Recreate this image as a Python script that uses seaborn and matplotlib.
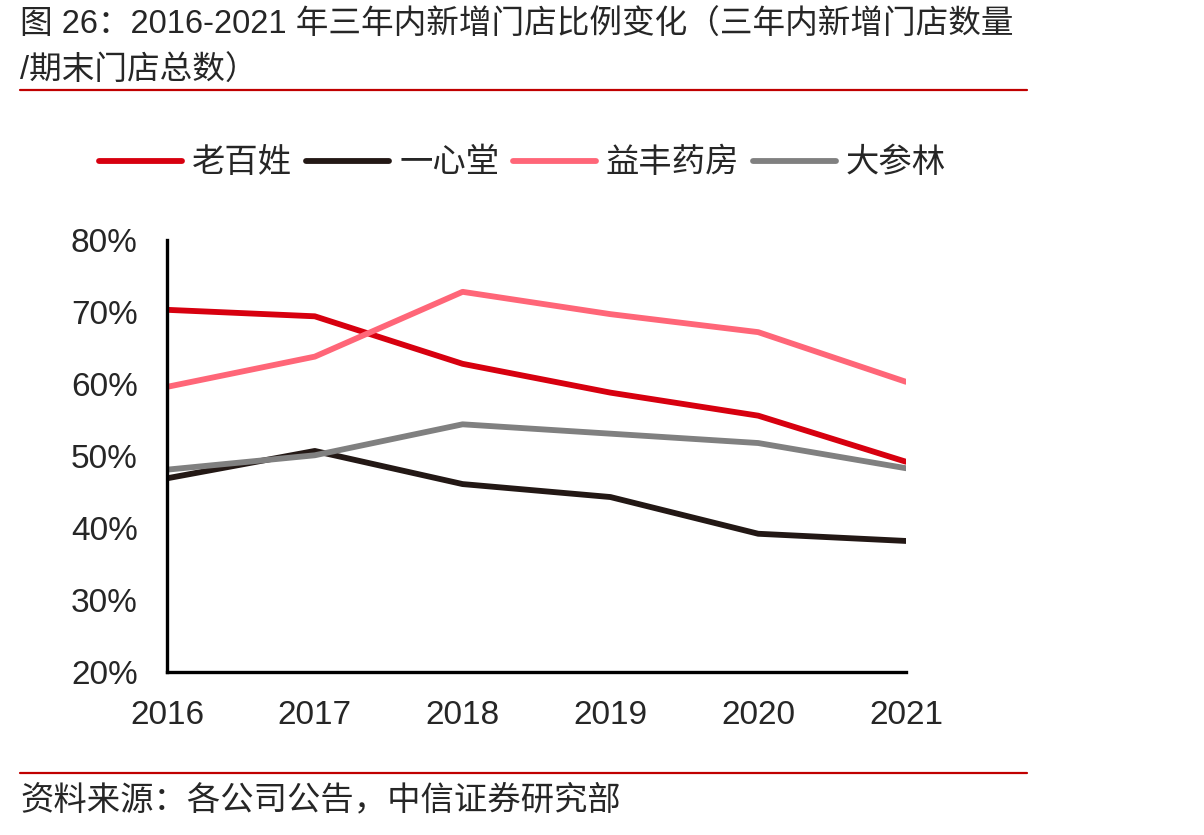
import pandas as pd
import numpy as np
import matplotlib
matplotlib.use("Agg")
import matplotlib.pyplot as plt
import seaborn as sns

# data (share of stores opened within three years, %)
years = [2016, 2017, 2018, 2019, 2020, 2021]
laobaixing = [70.3, 69.4, 62.8, 58.8, 55.6, 49.2]
yixintang = [46.9, 50.7, 46.1, 44.3, 39.2, 38.2]
yifeng = [59.6, 63.8, 72.8, 69.7, 67.2, 60.3]
dashenlin = [48.1, 50.1, 54.4, 53.1, 51.8, 48.3]
names = ["老百姓", "一心堂", "益丰药房", "大参林"]
colours = ["#D7000F", "#231815", "#FF6678", "#808080"]

sns.set_style("white")
plt.rcParams["font.family"] = ["Liberation Sans", "Noto Sans CJK SC", "DejaVu Sans"]

df = pd.DataFrame({
    "year": years * 4,
    "value": laobaixing + yixintang + yifeng + dashenlin,
    "company": [n for n in names for _ in years],
})

fig = plt.figure(figsize=(12.04, 8.35), dpi=100)
ax = fig.add_axes([0.1387, 0.1952, 0.6138, 0.5174])

sns.lineplot(data=df, x="year", y="value", hue="company", hue_order=names,
             palette=dict(zip(names, colours)), linewidth=4.2, ax=ax, legend=False)

ax.set_xlim(2016, 2021)
ax.set_ylim(20, 80)
ax.set_xticks(years)
ax.set_yticks(np.arange(20, 81, 10))
ax.set_yticklabels([f"{v}%" for v in range(20, 81, 10)])
ax.set_xlabel("")
ax.set_ylabel("")
for s in ["top", "right"]:
    ax.spines[s].set_visible(False)
for s in ["left", "bottom"]:
    ax.spines[s].set_linewidth(2.4)
    ax.spines[s].set_color("black")
ax.tick_params(axis="y", direction="out", length=7, width=2.2, labelsize=24, pad=14)
ax.tick_params(axis="x", direction="in", length=6, width=2.2, labelsize=24, pad=20)
ax.grid(False)

handles = ax.get_lines()[:4]
fig.legend(handles, names, loc="center", bbox_to_anchor=(0.434, 0.804), ncol=4,
           frameon=False, fontsize=24, handlelength=2.5, handletextpad=0.3,
           columnspacing=0.4)

# title, rules and source
fig.text(0.017, 0.988, "图 26：2016-2021 年三年内新增门店比例变化（三年内新增门店数量\n/期末门店总数）",
         fontsize=23.5, va="top", ha="left", linespacing=1.6)
fig.add_artist(plt.Line2D([0.017, 0.853], [0.892, 0.892], color="#C00000", linewidth=1.6))
fig.add_artist(plt.Line2D([0.017, 0.853], [0.074, 0.074], color="#C00000", linewidth=1.6))
fig.text(0.017, 0.041, "资料来源：各公司公告，中信证券研究部", fontsize=24, va="center", ha="left")

fig.savefig("out.png", dpi=100)
